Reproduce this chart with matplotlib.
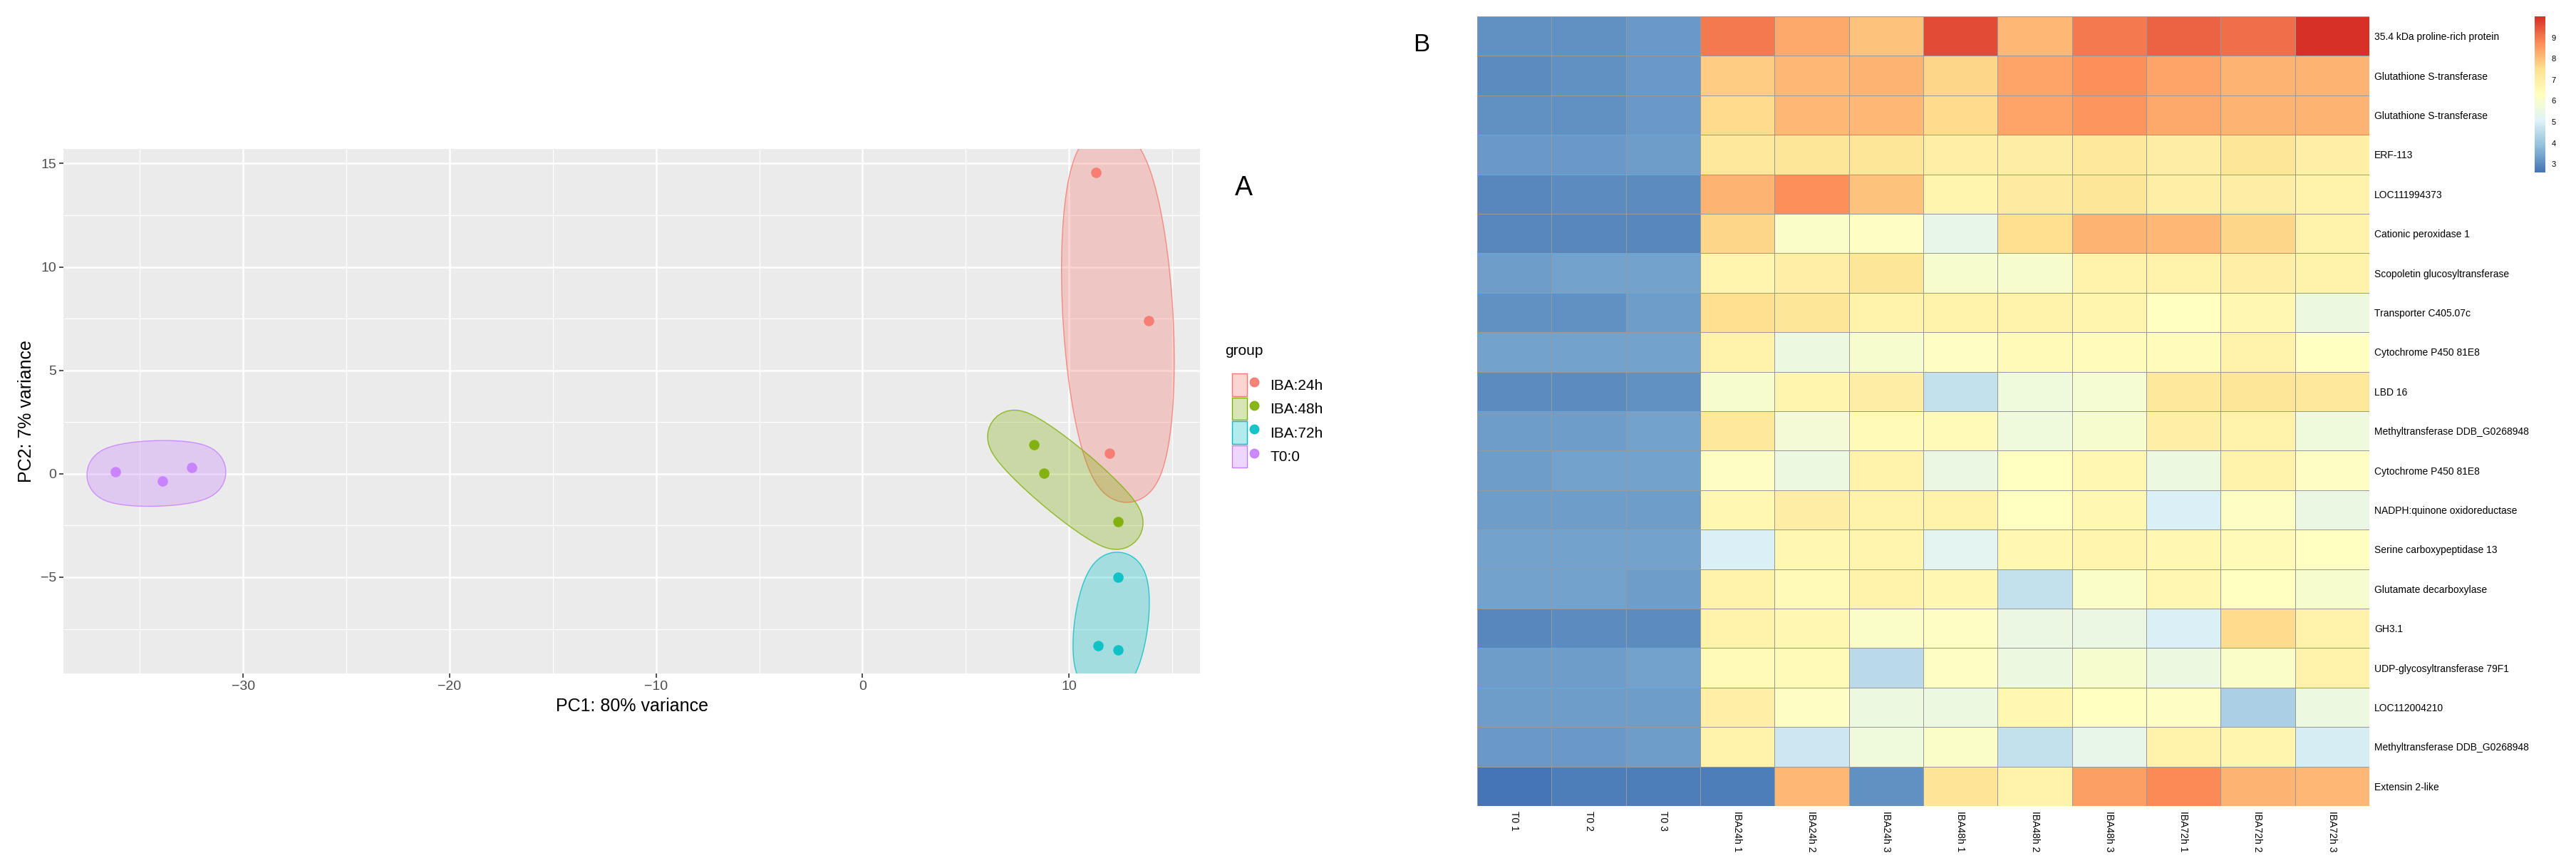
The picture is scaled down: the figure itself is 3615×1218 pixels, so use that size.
import numpy as np
import matplotlib.pyplot as plt
from matplotlib.colors import LinearSegmentedColormap, Normalize, to_rgba
from matplotlib.patches import Patch
from matplotlib.lines import Line2D
from matplotlib.legend_handler import HandlerTuple

plt.rcParams['font.family'] = ['Liberation Sans', 'DejaVu Sans']

# ---- panel A: PCA ----
groups = ['IBA:24h', 'IBA:48h', 'IBA:72h', 'T0:0']
group_colors = ['#F8766D', '#7CAE00', '#00BFC4', '#C77CFF']
sample_group = ['IBA:24h'] * 3 + ['IBA:48h'] * 3 + ['IBA:72h'] * 3 + ['T0:0'] * 3
pc1 = [11.3, 13.84, 11.96, 8.3, 8.8, 12.36, 12.36, 11.4, 12.36, -36.2, -33.9, -32.5]
pc2 = [14.55, 7.4, 1.0, 1.4, 0.03, -2.3, -5.0, -8.3, -8.5, 0.1, -0.35, 0.3]

# ---- panel B: heatmap ----
hm_cols = ['T0 1', 'T0 2', 'T0 3', 'IBA24h 1', 'IBA24h 2', 'IBA24h 3',
           'IBA48h 1', 'IBA48h 2', 'IBA48h 3', 'IBA72h 1', 'IBA72h 2', 'IBA72h 3']
hm_rows = ['35.4 kDa proline-rich protein', 'Glutathione S-transferase',
           'Glutathione S-transferase', 'ERF-113', 'LOC111994373',
           'Cationic peroxidase 1', 'Scopoletin glucosyltransferase',
           'Transporter C405.07c', 'Cytochrome P450 81E8', 'LBD 16',
           'Methyltransferase DDB_G0268948', 'Cytochrome P450 81E8',
           'NADPH:quinone oxidoreductase', 'Serine carboxypeptidase 13',
           'Glutamate decarboxylase', 'GH3.1', 'UDP-glycosyltransferase 79F1',
           'LOC112004210', 'Methyltransferase DDB_G0268948', 'Extensin 2-like']
expr = [
    [3.1, 3.1, 3.2, 9.0, 8.3, 8.0, 9.6, 8.1, 9.0, 9.3, 9.15, 10.0],
    [3.0, 3.1, 3.2, 7.8, 8.1, 8.2, 7.7, 8.4, 8.7, 8.4, 8.2, 8.2],
    [3.1, 3.1, 3.2, 7.6, 8.1, 8.1, 7.6, 8.4, 8.6, 8.35, 8.2, 8.2],
    [3.2, 3.2, 3.3, 7.2, 7.3, 7.3, 6.9, 7.0, 7.2, 7.0, 7.3, 6.9],
    [2.9, 3.0, 3.0, 8.2, 8.7, 8.0, 6.7, 7.1, 7.3, 6.9, 7.0, 6.8],
    [2.9, 2.9, 2.9, 7.7, 6.1, 6.2, 5.4, 7.5, 8.2, 8.1, 7.7, 6.8],
    [3.3, 3.4, 3.4, 6.7, 6.9, 7.3, 6.0, 6.0, 6.8, 6.8, 6.9, 6.8],
    [3.1, 3.1, 3.3, 7.5, 7.3, 6.8, 6.8, 6.8, 6.7, 6.3, 6.6, 5.6],
    [3.4, 3.4, 3.4, 6.8, 5.6, 6.0, 6.2, 6.5, 6.4, 6.4, 6.8, 6.3],
    [3.0, 3.0, 3.1, 6.0, 6.7, 7.0, 4.6, 5.7, 5.9, 7.2, 7.3, 7.2],
    [3.3, 3.3, 3.4, 7.2, 5.8, 6.5, 6.5, 5.7, 6.0, 6.9, 6.8, 5.7],
    [3.3, 3.4, 3.4, 6.2, 5.6, 6.8, 5.5, 6.3, 6.6, 5.6, 6.8, 6.2],
    [3.3, 3.3, 3.3, 6.6, 7.0, 6.8, 6.8, 6.3, 6.6, 5.0, 6.2, 5.5],
    [3.4, 3.4, 3.4, 5.0, 6.6, 6.7, 5.2, 6.6, 6.7, 6.6, 6.5, 6.3],
    [3.4, 3.4, 3.3, 6.8, 6.5, 6.8, 6.6, 4.6, 6.1, 6.6, 6.3, 6.0],
    [2.9, 3.0, 3.0, 6.8, 6.6, 6.1, 6.2, 5.5, 5.5, 5.0, 7.6, 6.8],
    [3.3, 3.3, 3.4, 6.5, 6.5, 4.5, 6.2, 5.6, 6.0, 5.6, 6.1, 6.8],
    [3.3, 3.3, 3.3, 6.9, 6.2, 5.6, 5.6, 6.6, 6.3, 6.2, 4.3, 5.6],
    [3.2, 3.2, 3.3, 6.8, 4.8, 5.7, 6.1, 4.6, 5.4, 6.8, 6.7, 4.9],
    [2.6, 2.8, 2.8, 2.8, 8.1, 3.1, 7.4, 6.8, 8.5, 8.8, 8.2, 8.1],
]
cbar_ticks = [3, 4, 5, 6, 7, 8, 9]

W, H = 3615, 1218
fig = plt.figure(figsize=(W / 100, H / 100), dpi=100)


def fig_rect(x0, y0, x1, y1):
    # pixel box (top-left origin) -> figure fraction
    return [x0 / W, 1 - y1 / H, (x1 - x0) / W, (y1 - y0) / H]


def mvee(P, tol=0.01):
    # Khachiyan enclosing ellipse, loose tolerance like ggforce's mark_ellipse
    n, d = P.shape
    Q = np.vstack([P.T, np.ones(n)])
    u = np.ones(n) / n
    for _ in range(5000):
        X = Q @ np.diag(u) @ Q.T
        M = np.einsum('ij,ji->i', Q.T @ np.linalg.inv(X), Q)
        j = np.argmax(M)
        step = (M[j] - d - 1) / ((d + 1) * (M[j] - 1))
        new_u = (1 - step) * u
        new_u[j] += step
        done = np.linalg.norm(new_u - u) < tol
        u = new_u
        if done:
            break
    c = P.T @ u
    A = np.linalg.inv(P.T @ np.diag(u) @ P - np.outer(c, c)) / d
    return c, A


ax = fig.add_axes(fig_rect(89, 209, 1684, 945))
x_arr = np.array(pc1)
y_arr = np.array(pc2)
xpad = 0.05 * (x_arr.max() - x_arr.min())
ypad = 0.05 * (y_arr.max() - y_arr.min())
ax.set_xlim(x_arr.min() - xpad, x_arr.max() + xpad)
ax.set_ylim(y_arr.min() - ypad, y_arr.max() + ypad)
ax.set_facecolor('#EBEBEB')
for s in ax.spines.values():
    s.set_visible(False)
ax.set_xticks([-30, -20, -10, 0, 10])
ax.set_yticks([-5, 0, 5, 10, 15])
ax.set_xticks([-35, -25, -15, -5, 5, 15], minor=True)
ax.set_yticks([-7.5, -2.5, 2.5, 7.5, 12.5], minor=True)
ax.grid(which='major', color='white', lw=1.8)
ax.grid(which='minor', color='white', lw=0.9)
ax.set_axisbelow(True)
ax.tick_params(which='major', length=4, width=1.2, color='#333333',
               labelcolor='#4D4D4D', labelsize=14, pad=3)
ax.tick_params(which='minor', length=0)
ax.set_xlabel('PC1: 80% variance', fontsize=18, labelpad=5)
ax.set_ylabel('PC2: 7% variance', fontsize=18, labelpad=6)

grp = np.array(sample_group)
expand = 35
for g, col in zip(groups, group_colors):
    m = grp == g
    pts = np.column_stack([x_arr[m], y_arr[m]])
    px = ax.transData.transform(pts)
    c, A = mvee(px)
    vals, vecs = np.linalg.eigh(A)
    a, b = 1 / np.sqrt(vals)
    t = np.linspace(0, 2 * np.pi, 240)
    # outward offset of the ellipse outline (parallel curve), in pixels
    nx, ny = np.cos(t) / a, np.sin(t) / b
    nl = np.hypot(nx, ny)
    lx = a * np.cos(t) + expand * nx / nl
    ly = b * np.sin(t) + expand * ny / nl
    ring = c[:, None] + vecs @ np.vstack([lx, ly])
    poly = ax.transData.inverted().transform(ring.T)
    ax.fill(poly[:, 0], poly[:, 1], fc=to_rgba(col, 0.3), ec=to_rgba(col, 0.8),
            lw=1.0, zorder=2)
for g, col in zip(groups, group_colors):
    m = grp == g
    ax.scatter(x_arr[m], y_arr[m], s=110, color=col, alpha=0.9, lw=0, zorder=3)

handles = [(Patch(fc=to_rgba(c, 0.3), ec=c, lw=1.0),
            Line2D([], [], marker='o', ls='', color=c, markersize=9, alpha=0.9))
           for c in group_colors]
fig.legend(handles, groups, loc='upper left',
           bbox_to_anchor=(1719 / W, 1 - 514 / H), frameon=False,
           fontsize=15, handlelength=1.95, handleheight=1.95,
           labelspacing=0.09, handletextpad=0.6, borderpad=0,
           handler_map={tuple: HandlerTuple(ndivide=None)})
fig.text(1719 / W, 1 - 493 / H, 'group', fontsize=15, ha='left', va='center')

fig.text(1745 / W, 1 - 264 / H, 'A', fontsize=27, ha='center', va='center')

# ---- heatmap ----
data = np.array(expr)
cmap = LinearSegmentedColormap.from_list(
    'rdylbu_r', ['#4575B4', '#91BFDB', '#E0F3F8', '#FFFFBF', '#FEE090', '#FC8D59', '#D73027'], N=100)
norm = Normalize(data.min(), data.max())
hax = fig.add_axes(fig_rect(2073, 23, 3325, 1131))
mesh = hax.pcolormesh(data, cmap=cmap, norm=norm, edgecolors='#999999', linewidth=0.6)
hax.set_xlim(0, data.shape[1])
hax.set_ylim(data.shape[0], 0)
for s in hax.spines.values():
    s.set_visible(False)
hax.yaxis.tick_right()
hax.set_yticks(np.arange(len(hm_rows)) + 0.5, hm_rows, fontsize=10)
hax.set_xticks(np.arange(len(hm_cols)) + 0.5, hm_cols, fontsize=10, rotation=270)
hax.tick_params(length=0, pad=5)

cax = fig.add_axes(fig_rect(3557, 23, 3572, 242))
cb = fig.colorbar(mesh, cax=cax)
cb.outline.set_visible(False)
cb.set_ticks(cbar_ticks)
cax.tick_params(length=0, labelsize=8, pad=6)

fig.text(1995 / W, 1 - 62 / H, 'B', fontsize=25, ha='center', va='center')

fig.savefig('out.png', dpi=100)
